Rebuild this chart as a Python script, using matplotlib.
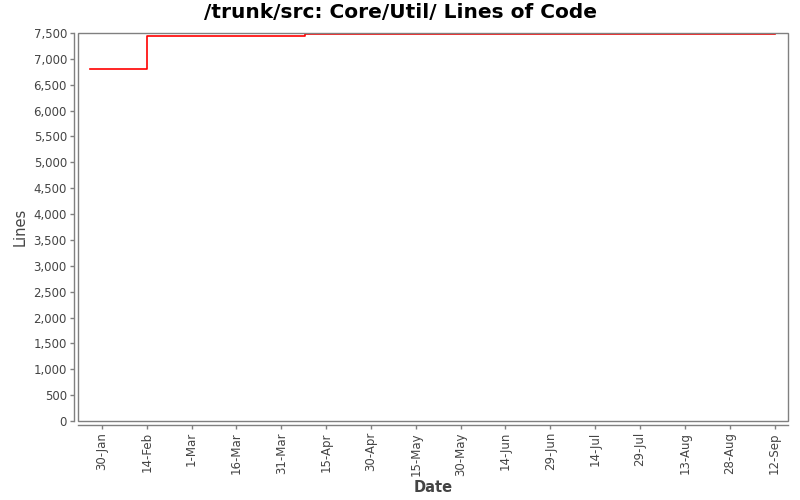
import matplotlib
matplotlib.use("Agg")
import matplotlib.pyplot as plt
from matplotlib.patches import Rectangle
from matplotlib.ticker import FuncFormatter
import datetime as dt

plt.rcParams["font.family"] = ["DejaVu Sans"]

# Data
dates = ["2007-01-26", "2007-02-14", "2007-04-08", "2007-09-12"]
lines = [6810, 7445, 7480, 7480]
tick_dates = ["2007-01-30", "2007-02-14", "2007-03-01", "2007-03-16", "2007-03-31",
              "2007-04-15", "2007-04-30", "2007-05-15", "2007-05-30", "2007-06-14",
              "2007-06-29", "2007-07-14", "2007-07-29", "2007-08-13", "2007-08-28",
              "2007-09-12"]
tick_labels = ["30-Jan", "14-Feb", "1-Mar", "16-Mar", "31-Mar", "15-Apr", "30-Apr",
               "15-May", "30-May", "14-Jun", "29-Jun", "14-Jul", "29-Jul", "13-Aug",
               "28-Aug", "12-Sep"]

x = [dt.datetime.strptime(d, "%Y-%m-%d") for d in dates]
tx = [dt.datetime.strptime(d, "%Y-%m-%d") for d in tick_dates]

fig = plt.figure(figsize=(8, 5), dpi=100)
ax = fig.add_axes([78/800, 1 - 421/500, (788-78)/800, (421-33)/500])

ax.step(x, lines, where="post", color="#ff0000", linewidth=1.2)

ax.set_xlim(dt.datetime(2007, 1, 22), dt.datetime(2007, 9, 16, 12))
ax.set_ylim(0, 7500)
ax.set_yticks(range(0, 7501, 500))
ax.yaxis.set_major_formatter(FuncFormatter(lambda v, p: f"{int(v):,}"))
ax.set_xticks(tx)
ax.set_xticklabels(tick_labels)

gray = "#808080"
txtc = "#444444"
for s in ["top", "right"]:
    ax.spines[s].set_visible(False)
for s in ["left", "bottom"]:
    ax.spines[s].set_position(("outward", 3))
    ax.spines[s].set_color(gray)
    ax.spines[s].set_linewidth(1.0)
ax.add_patch(Rectangle((0, 0), 1, 1, transform=ax.transAxes, fill=False,
                       edgecolor=gray, linewidth=1.0, clip_on=False, zorder=5))
ax.tick_params(axis="both", colors=gray, labelcolor=txtc, labelsize=8.5,
               length=3, width=1.0, pad=2)
ax.tick_params(axis="x", labelrotation=90)

ax.set_xlabel("Date", fontsize=10.5, fontweight="bold", color=txtc, labelpad=3)
ax.set_ylabel("Lines", fontsize=10.5, color=txtc, labelpad=4)
fig.suptitle("/trunk/src: Core/Util/ Lines of Code", fontsize=14.5, fontweight="bold",
             y=0.993, va="top", x=400/800)

fig.savefig("out.png", dpi=100)
